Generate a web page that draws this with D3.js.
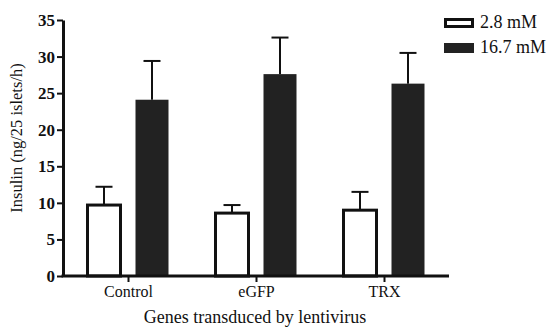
<!DOCTYPE html>
<html>
<head>
<meta charset="utf-8">
<script src="https://cdn.jsdelivr.net/npm/d3@7"></script>
<style>
  body { margin: 0; background: #fff; }
  text { font-family: "Liberation Serif", "Times New Roman", serif; fill: #111; }
</style>
</head>
<body>
<div id="chart"></div>
<script>
// data
var genes = ["Control", "eGFP", "TRX"];
var glucose = ["2.8 mM", "16.7 mM"];
var low_mean = [9.7, 8.6, 9.0];
var low_err = [2.5, 1.1, 2.5];
var high_mean = [24.1, 27.6, 26.3];
var high_err = [5.3, 5.0, 4.2];
var yTicks = [0, 5, 10, 15, 20, 25, 30, 35];

var colors = ["#ffffff", "#222222"];

var W = 549, H = 327;
var margin = { top: 20, right: 100, bottom: 51, left: 63 },
    width = 449 - margin.left,
    height = H - margin.top - margin.bottom;

var svg = d3.select("#chart")
    .append("svg")
    .attr("width", W)
    .attr("height", H)
    .append("g")
    .attr("transform", "translate(" + margin.left + "," + margin.top + ")");

// scales
var x = d3.scalePoint()
    .domain(genes)
    .range([65, 321]);
var y = d3.scaleLinear()
    .domain([0, 35])
    .range([height, 0]);

var barW = 33, gap = 15;

// build rows
var data = [];
for (var ii = 0; ii < genes.length; ii++) {
    data.push({ g: genes[ii], k: 0, v: low_mean[ii], e: low_err[ii] });
    data.push({ g: genes[ii], k: 1, v: high_mean[ii], e: high_err[ii] });
}
var bx = function (d) {
    return d.k == 0 ? x(d.g) - gap / 2 - barW : x(d.g) + gap / 2;
};

// error bars (upper only)
svg.selectAll(".err")
    .data(data)
    .enter().append("line")
    .attr("x1", function (d) { return bx(d) + barW / 2; })
    .attr("x2", function (d) { return bx(d) + barW / 2; })
    .attr("y1", function (d) { return y(d.v); })
    .attr("y2", function (d) { return y(d.v + d.e); })
    .attr("stroke", "#111")
    .attr("stroke-width", 2);
svg.selectAll(".cap")
    .data(data)
    .enter().append("line")
    .attr("x1", function (d) { return bx(d) + barW / 2 - 8.5; })
    .attr("x2", function (d) { return bx(d) + barW / 2 + 8.5; })
    .attr("y1", function (d) { return y(d.v + d.e); })
    .attr("y2", function (d) { return y(d.v + d.e); })
    .attr("stroke", "#111")
    .attr("stroke-width", 2);

// bars
svg.selectAll(".bar")
    .data(data)
    .enter().append("rect")
    .attr("x", function (d) { return bx(d); })
    .attr("y", function (d) { return y(d.v); })
    .attr("width", barW)
    .attr("height", function (d) { return y(0) - y(d.v); })
    .attr("fill", function (d) { return colors[d.k]; })
    .attr("stroke", "#111")
    .attr("stroke-width", function (d) { return d.k == 0 ? 3 : 0; });

// axes
var yAxis = svg.append("g")
    .call(d3.axisLeft(y).tickValues(yTicks).tickSize(6).tickPadding(2).tickSizeOuter(0));
yAxis.attr("font-family", null);
yAxis.select(".domain").attr("stroke", "#111").attr("stroke-width", 3);
yAxis.selectAll(".tick line").attr("stroke", "#111").attr("stroke-width", 2);
yAxis.selectAll(".tick text")
    .style("font-family", "'Liberation Serif', serif")
    .style("font-size", "17px")
    .style("font-weight", "bold")
    .attr("fill", "#111");

var xAxis = svg.append("g")
    .attr("transform", "translate(0," + height + ")")
    .call(d3.axisBottom(x).tickSize(6).tickPadding(4).tickSizeOuter(0));
xAxis.attr("font-family", null);
xAxis.select(".domain").attr("d", "M-1.5,0H" + width).attr("stroke", "#111").attr("stroke-width", 3);
xAxis.selectAll(".tick line").attr("stroke", "#111").attr("stroke-width", 2);
xAxis.selectAll(".tick text")
    .style("font-family", "'Liberation Serif', serif")
    .style("font-size", "16px")
    .attr("fill", "#111");

// axis labels
svg.append("text")
    .attr("text-anchor", "middle")
    .attr("x", 192)
    .attr("y", height + 47)
    .style("font-size", "18px")
    .text("Genes transduced by lentivirus");

svg.append("text")
    .attr("text-anchor", "middle")
    .attr("transform", "translate(-41," + (height / 2 - 10) + ")rotate(-90)")
    .style("font-size", "16.5px")
    .text("Insulin (ng/25 islets/h)");

// legend
var legend = svg.append("g")
    .attr("transform", "translate(381,-2)");
legend.selectAll("rect")
    .data(glucose)
    .enter().append("rect")
    .attr("x", 1.5)
    .attr("y", function (d, i) { return i * 25; })
    .attr("width", function (d, i) { return i == 0 ? 27 : 30; })
    .attr("height", function (d, i) { return i == 0 ? 7 : 10; })
    .attr("transform", function (d, i) { return i == 0 ? "translate(0,1.5)" : "translate(-1.5,0)"; })
    .attr("fill", function (d, i) { return colors[i]; })
    .attr("stroke", "#111")
    .attr("stroke-width", function (d, i) { return i == 0 ? 3 : 0; });
legend.selectAll("text")
    .data(glucose)
    .enter().append("text")
    .attr("x", 36)
    .attr("y", function (d, i) { return i * 25 + 10; })
    .style("font-size", "18px")
    .text(function (d) { return d; });
</script>
</body>
</html>
